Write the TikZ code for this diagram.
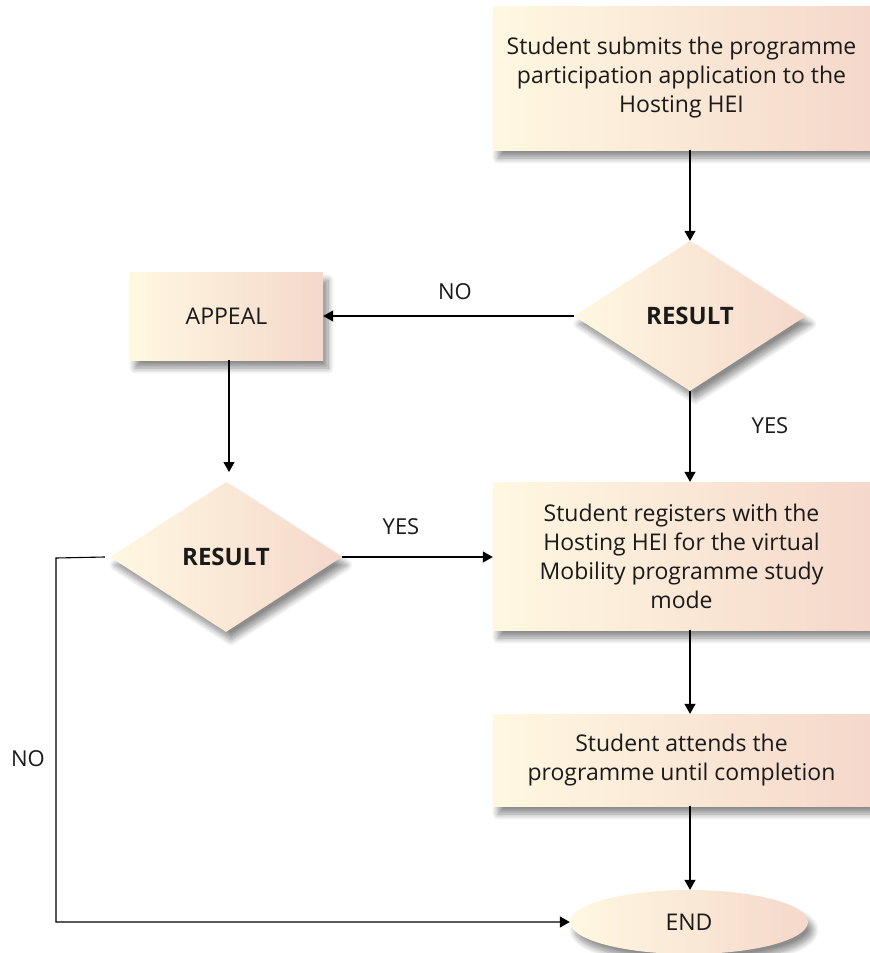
\documentclass[tikz,border=0pt]{standalone}
\usepackage{fontspec}
\setmainfont{Open Sans}
\usetikzlibrary{shapes.geometric,shadows.blur,arrows.meta}
\definecolor{cl}{HTML}{FFF8E1}
\definecolor{cr}{HTML}{F5D8CB}
\definecolor{txt}{HTML}{1A1A1A}
\tikzset{
  shade base/.style={left color=cl,right color=cr,text=txt,
    blur shadow={shadow xshift=5pt,shadow yshift=-8pt,shadow blur steps=10,shadow blur radius=6pt,shadow opacity=45}},
  stepbox/.style={shade base,rectangle,inner sep=0pt,align=center,font=\fontsize{23}{29}\selectfont},
  decision/.style={shade base,diamond,inner sep=0pt,minimum width=232pt,minimum height=150pt,font=\fontsize{24}{24}\selectfont\bfseries},
  terminal/.style={shade base,ellipse,inner sep=0pt,minimum width=238pt,minimum height=64pt,font=\fontsize{23}{24}\selectfont},
  lbl/.style={text=txt,font=\fontsize{22}{24}\selectfont},
  conn/.style={line width=1.1pt,-{Triangle[width=11pt,length=10pt]}},
}
\begin{document}
\begin{tikzpicture}[x=1pt,y=-1pt]
\useasboundingbox (0,0) rectangle (870,953);
\node[stepbox,minimum width=377pt,minimum height=144pt] (b1) at (681.5,78) {Student submits the programme\\participation application to the\\Hosting HEI};
\node[decision] (d1) at (690,316) {RESULT};
\node[stepbox,minimum width=193pt,minimum height=88pt] (ap) at (226.5,316) {APPEAL};
\node[decision] (d2) at (226,557) {RESULT};
\node[stepbox,minimum width=377pt,minimum height=148pt] (b3) at (681.5,556) {Student registers with the\\Hosting HEI for the virtual\\Mobility programme study\\mode};
\node[stepbox,minimum width=377pt,minimum height=92pt] (b4) at (681.5,760) {Student attends the\\programme until completion};
\node[terminal] (e) at (689,922) {END};
\coordinate (c1) at (56,558);
\coordinate (c2) at (56,922);
\coordinate (ab) at (229,472);
\draw[conn] (b1.south -| d1.north) -- (d1.north);
\draw[conn] (d1.west) -- (ap.east |- d1.west);
\draw[conn] (ap.south -| ab) -- (ab);
\draw[conn] (d2.east) -- (b3.west |- d2.east);
\draw[conn] (d1.south) -- (b3.north -| d1.south);
\draw[conn] (b3.south -| d1.south) -- (b4.north -| d1.south);
\draw[conn] (b4.south -| d1.south) -- (e.north -| d1.south);
\draw[conn] ([xshift=-5pt]d2.west) -- (c1) -- (c2) -- (e.west);
\node[lbl] (no1) at (455,292) {NO};
\node[lbl] (yes1) at (770,426) {YES};
\node[lbl] (yes2) at (401,527) {YES};
\node[lbl] (no2) at (28,759) {NO};
\end{tikzpicture}
\end{document}
